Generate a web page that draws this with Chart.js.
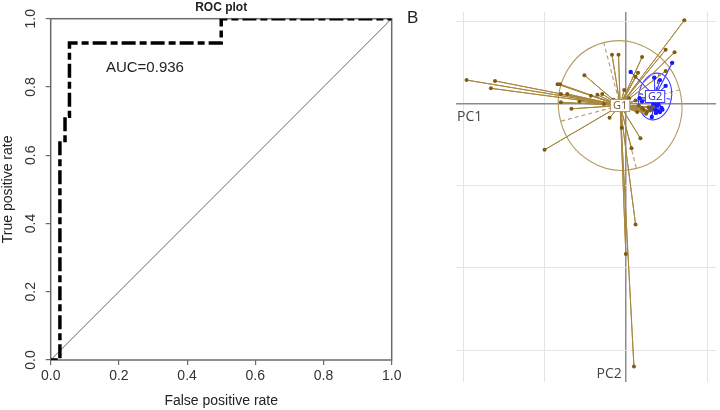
<!DOCTYPE html>
<html>
<head>
<meta charset="utf-8">
<script src="https://cdn.jsdelivr.net/npm/chart.js@4.4.1/dist/chart.umd.min.js"></script>
<style>
  body { margin: 0; background: #fff; width: 720px; height: 410px; overflow: hidden; position: relative; }
  #rocChart { position: absolute; left: 0; top: 0; }
  #pcaChart { position: absolute; left: 450px; top: 6px; }
</style>
</head>
<body>
<canvas id="rocChart" width="420" height="410"></canvas>
<canvas id="pcaChart" width="270" height="382"></canvas>
<script>
// ---data: ROC curve (panel A)---
var rocFpr = [0, 0.027, 0.027, 0.042, 0.042, 0.055, 0.055, 0.5, 0.5, 1];
var rocTpr = [0, 0, 0.643, 0.643, 0.714, 0.714, 0.929, 0.929, 1, 1];
var chanceX = [0, 1];
var chanceY = [0, 1];
var rocTicks = [0, 0.2, 0.4, 0.6, 0.8, 1];
var aucText = "AUC=0.936";

// ---data: PCA class plot (panel B)---
var g1X = [-1.96, -1.61, -1.66, -1.00, -0.84, -0.81, -0.80, -0.72, -0.80, -0.67,
           -0.57, -0.51, -0.43, -0.35, -0.17, -0.09, -0.20, -0.05, 0.18, 0.07,
           0.12, 0.00, 0.10, 0.20, 0.15, 0.49, 0.60, 0.72, 0.49, 0.12,
           -0.29, -0.02, 0.16, 0.22, 0.26, 0.12, 0.28, -0.15, -0.27, 0.04,
           0.20, 0.25, 0.30, 0.14, 0.33];
var g1Y = [0.29, 0.28, 0.19, -0.56, 0.24, 0.24, 0.12, 0.12, 0.02, -0.06,
           0.03, 0.35, 0.10, 0.11, 0.60, 0.60, -0.17, -0.29, -0.42, -0.54,
           -1.47, -1.83, -3.20, 0.57, 0.38, 0.66, 0.63, 1.02, 0.40, 0.33,
           0.12, 0.17, -0.02, -0.07, -0.10, 0.04, -0.04, 0.05, 0.00, 0.07,
           -0.05, -0.12, -0.08, -0.10, -0.04];
var g2X = [0.06, 0.57, 0.35, 0.49, 0.42, 0.17, 0.20, 0.30, 0.34, 0.38,
           0.40, 0.44, 0.36, 0.39, 0.42, 0.32, 0.45, 0.37];
var g2Y = [0.39, 0.50, 0.32, 0.22, 0.29, 0.07, 0.03, -0.05, 0.00, -0.02,
           -0.01, -0.05, -0.07, -0.09, -0.10, -0.16, -0.07, -0.11];
var groupNames = ["G1", "G2"];
var groupCx = [-0.07, 0.36];
var groupCy = [-0.02, 0.09];
var ellMajor = [0.80, 0.29];
var ellMinor = [0.75, 0.20];
var ellAngle = [104.7, 80];
var pcGridX = [-2, -1, 0, 1];
var pcGridY = [-3, -2, -1, 0, 1];

Chart.defaults.font.family = '"Liberation Sans", Arial, sans-serif';

function toPoints(xs, ys) {
  return xs.map(function (x, i) { return { x: x, y: ys[i] }; });
}

// star lines: centre -> point -> centre -> point ...
function starPoints(xs, ys, cx, cy) {
  var out = [];
  for (var i = 0; i < xs.length; i++) {
    out.push({ x: cx, y: cy });
    out.push({ x: xs[i], y: ys[i] });
  }
  out.push({ x: cx, y: cy });
  return out;
}

// ---panel A extras: box, AUC text, "B"---
var rocExtras = {
  id: "rocExtras",
  beforeDatasetsDraw: function (chart) {
    var a = chart.chartArea, ctx = chart.ctx;
    ctx.save();
    ctx.strokeStyle = "#6b6b6b";
    ctx.lineWidth = 1.5;
    ctx.strokeRect(a.left, a.top, a.right - a.left, a.bottom - a.top);
    ctx.restore();
  },
  afterDatasetsDraw: function (chart) {
    var ctx = chart.ctx;
    var xs = chart.scales.x, ys = chart.scales.y;
    ctx.save();
    ctx.fillStyle = "#222";
    ctx.font = '15px "Liberation Sans", Arial, sans-serif';
    ctx.textBaseline = "middle";
    ctx.fillText(aucText, xs.getPixelForValue(0.162), ys.getPixelForValue(0.855));
    ctx.font = '17px "Liberation Sans", Arial, sans-serif';
    ctx.textBaseline = "alphabetic";
    ctx.fillText("B", 407, 22.7);
    ctx.restore();
  }
};

new Chart(document.getElementById("rocChart"), {
  type: "scatter",
  data: {
    datasets: [
      {
        data: toPoints(rocFpr, rocTpr),
        showLine: true,
        borderColor: "#000",
        borderWidth: 3.5,
        borderDash: [7, 4, 14, 4],
        borderCapStyle: "butt",
        borderJoinStyle: "miter",
        pointRadius: 0,
        order: 0
      },
      {
        data: toPoints(chanceX, chanceY),
        showLine: true,
        borderColor: "#666",
        borderWidth: 1,
        pointRadius: 0,
        order: 1
      }
    ]
  },
  options: {
    responsive: false,
    animation: false,
    events: [],
    layout: { padding: { top: 0, right: 28.3, bottom: 0, left: 0 } },
    plugins: {
      legend: { display: false },
      tooltip: { enabled: false },
      title: {
        display: true,
        text: "ROC plot",
        fullSize: false,
        color: "#222",
        font: { size: 12, weight: "bold" },
        padding: { top: 0, bottom: 4.3 }
      }
    },
    scales: {
      x: {
        type: "linear",
        min: 0,
        max: 1,
        afterBuildTicks: function (s) { s.ticks = rocTicks.map(function (v) { return { value: v }; }); },
        afterFit: function (s) { s.height = 50; },
        ticks: {
          autoSkip: false, maxRotation: 0, minRotation: 0, padding: 3,
          color: "#333", font: { size: 14 },
          callback: function (v) { return v.toFixed(1); }
        },
        grid: { drawOnChartArea: false, drawTicks: true, tickLength: 5, color: "#6b6b6b", lineWidth: 1.2 },
        border: { display: false },
        title: { display: true, text: "False positive rate", color: "#222", font: { size: 14 }, padding: { top: 0, bottom: 0.5 } }
      },
      y: {
        type: "linear",
        min: 0,
        max: 1,
        afterBuildTicks: function (s) { s.ticks = rocTicks.map(function (v) { return { value: v }; }); },
        afterFit: function (s) { s.width = 50.7; },
        ticks: {
          autoSkip: false, minRotation: 90, maxRotation: 90, crossAlign: "center", padding: 5,
          color: "#333", font: { size: 14 },
          callback: function (v) { return v.toFixed(1); }
        },
        grid: { drawOnChartArea: false, drawTicks: true, tickLength: 5, color: "#6b6b6b", lineWidth: 1.2 },
        border: { display: false },
        title: { display: true, text: "True positive rate", color: "#222", font: { size: 14 }, padding: { top: 0, bottom: 0 } }
      }
    }
  },
  plugins: [rocExtras]
});

// ---panel B extras: ellipses, group labels, axis names---
var groupStyle = [
  { ell: "#b59a62", text: "#6e5a2c", box: "#b59a62" },
  { ell: "#3a3aff", text: "#2b2ba8", box: "#3a3aff" }
];

var pcaExtras = {
  id: "pcaExtras",
  beforeDatasetsDraw: function (chart) {
    var ctx = chart.ctx, xs = chart.scales.x, ys = chart.scales.y;
    var ux = Math.abs(xs.getPixelForValue(1) - xs.getPixelForValue(0));
    var uy = Math.abs(ys.getPixelForValue(1) - ys.getPixelForValue(0));
    ctx.save();
    for (var g = 0; g < groupNames.length; g++) {
      var cx = groupCx[g], cy = groupCy[g];
      var t = ellAngle[g] * Math.PI / 180;
      var pcx = xs.getPixelForValue(cx), pcy = ys.getPixelForValue(cy);
      ctx.strokeStyle = groupStyle[g].ell;
      ctx.lineWidth = 1.1;
      ctx.setLineDash([]);
      ctx.beginPath();
      ctx.ellipse(pcx, pcy, ellMajor[g] * ux, ellMinor[g] * uy, -t, 0, Math.PI * 2);
      ctx.stroke();
      // ellipse axes, dashed
      ctx.setLineDash([4, 3]);
      ctx.beginPath();
      ctx.moveTo(xs.getPixelForValue(cx + ellMajor[g] * Math.cos(t)), ys.getPixelForValue(cy + ellMajor[g] * Math.sin(t)));
      ctx.lineTo(xs.getPixelForValue(cx - ellMajor[g] * Math.cos(t)), ys.getPixelForValue(cy - ellMajor[g] * Math.sin(t)));
      ctx.moveTo(xs.getPixelForValue(cx - ellMinor[g] * Math.sin(t)), ys.getPixelForValue(cy + ellMinor[g] * Math.cos(t)));
      ctx.lineTo(xs.getPixelForValue(cx + ellMinor[g] * Math.sin(t)), ys.getPixelForValue(cy - ellMinor[g] * Math.cos(t)));
      ctx.stroke();
    }
    ctx.restore();
  },
  afterDatasetsDraw: function (chart) {
    var ctx = chart.ctx, xs = chart.scales.x, ys = chart.scales.y, a = chart.chartArea;
    ctx.save();
    ctx.font = '11px "Open Sans", "Liberation Sans", sans-serif';
    ctx.textAlign = "center";
    ctx.textBaseline = "middle";
    for (var g = 0; g < groupNames.length; g++) {
      var px = xs.getPixelForValue(groupCx[g]), py = ys.getPixelForValue(groupCy[g]);
      var w = ctx.measureText(groupNames[g]).width + 5, h = 12;
      ctx.fillStyle = "#fff";
      ctx.fillRect(px - w / 2, py - h / 2, w, h);
      ctx.strokeStyle = groupStyle[g].box;
      ctx.lineWidth = 1;
      ctx.strokeRect(px - w / 2, py - h / 2, w, h);
      ctx.fillStyle = groupStyle[g].text;
      ctx.fillText(groupNames[g], px, py + 0.5);
    }
    ctx.fillStyle = "#444";
    ctx.font = '14px "Open Sans", "Liberation Sans", sans-serif';
    ctx.textAlign = "left";
    ctx.fillText("PC1", a.left + 1, ys.getPixelForValue(0) + 13);
    ctx.textAlign = "right";
    ctx.fillText("PC2", xs.getPixelForValue(0) - 4, a.bottom - 8);
    ctx.restore();
  }
};

function gridColor(c) { return c.tick && c.tick.value === 0 ? "#8c8c8c" : "#e4e4e4"; }
function gridWidth(c) { return c.tick && c.tick.value === 0 ? 1.5 : 1; }

new Chart(document.getElementById("pcaChart"), {
  type: "scatter",
  data: {
    datasets: [
      { data: toPoints(g1X, g1Y), pointRadius: 2, pointBackgroundColor: "#7d5d12", pointBorderWidth: 0, order: 0 },
      { data: toPoints(g2X, g2Y), pointRadius: 2.2, pointBackgroundColor: "#1a1aff", pointBorderWidth: 0, order: 0 },
      { data: starPoints(g1X, g1Y, groupCx[0], groupCy[0]), showLine: true, borderColor: "#a8883e", borderWidth: 1, pointRadius: 0, order: 2 },
      { data: starPoints(g2X, g2Y, groupCx[1], groupCy[1]), showLine: true, borderColor: "#4646ff", borderWidth: 1, pointRadius: 0, order: 1 }
    ]
  },
  options: {
    responsive: false,
    animation: false,
    events: [],
    layout: { padding: { left: 6, top: 6, right: 2, bottom: 6 } },
    plugins: { legend: { display: false }, tooltip: { enabled: false } },
    scales: {
      x: {
        type: "linear", min: -2.09, max: 1.11,
        afterBuildTicks: function (s) { s.ticks = pcGridX.map(function (v) { return { value: v }; }); },
        afterFit: function (s) { s.height = 0; },
        ticks: { display: false },
        grid: { drawTicks: false, color: gridColor, lineWidth: gridWidth },
        border: { display: false }
      },
      y: {
        type: "linear", min: -3.39, max: 1.12,
        afterBuildTicks: function (s) { s.ticks = pcGridY.map(function (v) { return { value: v }; }); },
        afterFit: function (s) { s.width = 0; },
        ticks: { display: false },
        grid: { drawTicks: false, color: gridColor, lineWidth: gridWidth },
        border: { display: false }
      }
    }
  },
  plugins: [pcaExtras]
});
</script>
</body>
</html>
